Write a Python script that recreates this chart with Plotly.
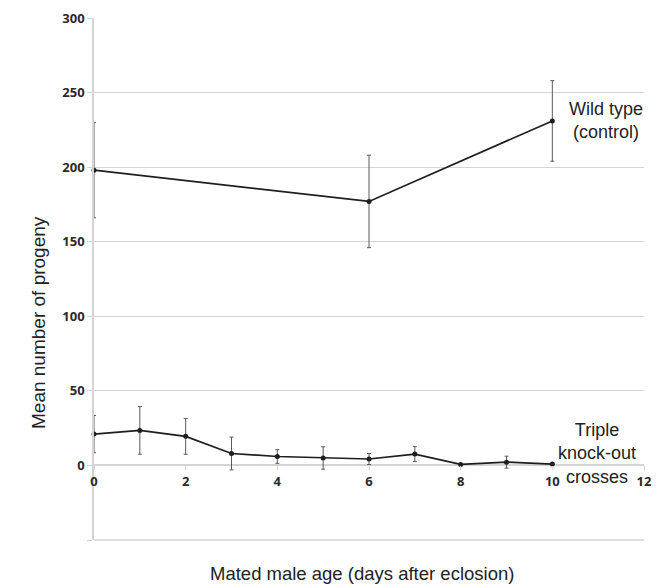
import plotly.graph_objects as go

# Data
wt_days = [0, 6, 10]
wt_mean = [198, 177, 231]
wt_err = [32, 31, 27]

ko_days = [0, 1, 2, 3, 4, 5, 6, 7, 8, 9, 10]
ko_mean = [21, 23.5, 19.5, 8, 6, 5, 4.3, 7.6, 0.7, 2.2, 0.9]
ko_err = [12.5, 16, 12, 11, 4.6, 7.5, 3.7, 5, None, 4, None]

y_ticks = [-50, 0, 50, 100, 150, 200, 250, 300]
y_labels = ["", "0", "50", "100", "150", "200", "250", "300"]
x_ticks = [0, 2, 4, 6, 8, 10, 12]

line_col = "#1e1e1e"
err_col = "#5a5a5a"
grid_col = "#d4d4d4"

fig = go.Figure()
for xs, ys, es in [(wt_days, wt_mean, wt_err), (ko_days, ko_mean, ko_err)]:
    fig.add_trace(go.Scatter(
        x=xs, y=ys, mode="lines+markers",
        line=dict(color=line_col, width=1.7),
        marker=dict(color=line_col, size=5),
        error_y=dict(type="data", array=es, visible=True, color=err_col,
                     thickness=1, width=2),
        showlegend=False, cliponaxis=False,
    ))

tick_font = dict(family="Open Sans, sans-serif", size=13, color="#2a2a2a", weight="bold")

y_lo = -50
fig.update_layout(
    width=657, height=578,
    margin=dict(l=86, r=21, t=10, b=46),
    plot_bgcolor="white", paper_bgcolor="white",
    font=dict(family="Liberation Sans, Arial, sans-serif", color="#222"),
    xaxis=dict(
        range=[0, 12], tickvals=x_ticks, showgrid=False, zeroline=False,
        anchor="free", position=(0 - y_lo) / (300 - y_lo), automargin=False,
        showline=False,
        ticks="outside", ticklen=4, tickcolor=grid_col,
        tickfont=tick_font,
    ),
    yaxis=dict(
        range=[y_lo, 300], tickvals=y_ticks, ticktext=y_labels, automargin=False,
        showgrid=True, gridcolor=grid_col, gridwidth=1.3,
        zeroline=True, zerolinecolor=grid_col, zerolinewidth=1.5,
        showline=True, linecolor=grid_col, linewidth=1.5,
        ticks="outside", ticklen=5, tickcolor=grid_col,
        tickfont=tick_font,
    ),
    shapes=[dict(type="line", xref="paper", yref="paper", x0=0, x1=1, y0=0, y1=0,
                 line=dict(color=grid_col, width=1.5), layer="below")],
)

fig.add_annotation(x=11.17, y=231, xref="x", yref="y", text="Wild type<br>(control)",
                   showarrow=False, font=dict(size=18, color="#222"), align="center")
fig.add_annotation(x=10.98, y=7.8, xref="x", yref="y", text="Triple<br>knock-out<br>crosses",
                   showarrow=False, font=dict(size=18, color="#222"), align="center")
fig.add_annotation(x=-0.125, y=96, xref="paper", yref="y", text="Mean number of progeny",
                   textangle=-90, showarrow=False, font=dict(size=19, color="#222"))
fig.add_annotation(x=5.85, y=-0.064, xref="x", yref="paper", text="Mated male age (days after eclosion)",
                   showarrow=False, font=dict(size=18.5, color="#222"), yanchor="middle")

fig.write_html("out.html")
